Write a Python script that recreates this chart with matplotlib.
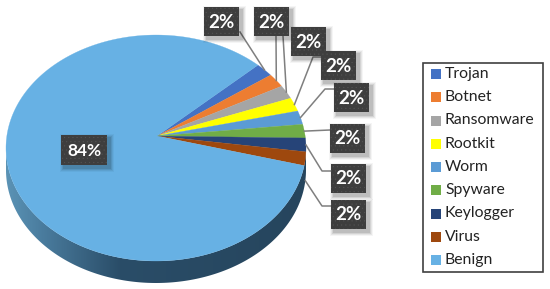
import numpy as np
import matplotlib as mpl
mpl.use('Agg')
import matplotlib.pyplot as plt
from matplotlib.patches import Rectangle, Polygon

plt.rcParams['font.family'] = ['Lato', 'DejaVu Sans']
plt.rcParams['hatch.linewidth'] = 0.3

labels = ['Trojan', 'Botnet', 'Ransomware', 'Rootkit', 'Worm', 'Spyware', 'Keylogger', 'Virus', 'Benign']
values = [1.95, 1.95, 1.95, 1.95, 1.95, 1.95, 1.95, 1.95, 84.4]
pct_labels = ['2%', '2%', '2%', '2%', '2%', '2%', '2%', '2%', '84%']
colors = ['#4472C4', '#ED7D31', '#A5A5A5', '#FFFF00', '#5B9BD5', '#70AD47', '#264478', '#9E480E', '#67B1E4']

# everything is laid out in image pixels
W, H = 550, 289
fig = plt.figure(figsize=(W / 100, H / 100), dpi=100)
ax = fig.add_axes([0, 0, 1, 1])
ax.set_xlim(0, W)
ax.set_ylim(H, 0)
ax.axis('off')

cx, cy, a, b = 156, 148, 150, 113
apex = (157, 136)
depth = 22
start = 47.2


def rim(deg):
    t = np.radians(deg)
    return cx + a * np.cos(t), cy - b * np.sin(t)


# side of the pie, lighter on the left
t = np.radians(np.linspace(180, 360, 200))
sx = cx + a * np.cos(t)
sy = cy - b * np.sin(t)
side = Polygon(np.r_[np.c_[sx, sy + depth], np.c_[sx, sy][::-1]], closed=True,
               transform=ax.transData, facecolor='none', edgecolor='none')
ax.add_patch(side)
cmap = mpl.colors.LinearSegmentedColormap.from_list(
    'side', [(0, '#5b93b5'), (0.12, '#4a7c9e'), (0.38, '#2a4d68'), (1, '#26455d')])
im = ax.imshow(np.linspace(0, 1, 256).reshape(1, -1), cmap=cmap, aspect='auto',
               extent=(cx - a, cx + a, cy + b + depth + 2, cy - 5), zorder=1)
im.set_clip_path(side)
ax.set_xlim(0, W)
ax.set_ylim(H, 0)

# top face wedges, clockwise from the first slice
ang = start
mids = []
for val, col in zip(values, colors):
    sweep = val * 3.6
    tt = np.linspace(ang, ang - sweep, max(int(sweep) * 2, 4))
    xs, ys = rim(tt)
    ax.fill(np.r_[apex[0], xs], np.r_[apex[1], ys], color=col, lw=0.2, zorder=2)
    mids.append(ang - sweep / 2)
    ang -= sweep

# label boxes: left, top
box_w, box_h = 35, 29
box_pos = [(204, 7), (254, 7), (291, 27), (321, 51), (334, 83), (330, 124), (331, 164), (331, 200)]
# where the leader leaves the box, with an optional elbow
leader_from = [[(240, 32)], [(276, 36)], [(283, 36)], [(321, 57), (313, 57)], [(334, 89), (325, 89)],
               [(330, 130)], [(331, 171), (322, 171)], [(331, 206), (322, 206)]]


def label_box(x, y, w, h, txt, size):
    for k, al in zip([4, 3, 2, 1], [0.04, 0.06, 0.08, 0.1]):
        ax.add_patch(Rectangle((x - k + 3, y - k + 3), w + 2 * k, h + 2 * k, fc='black', ec='none', alpha=al, zorder=4))
    ax.add_patch(Rectangle((x, y), w, h, fc='#3e3e3e', ec='#535353', hatch='....', lw=0, zorder=5))
    ax.text(x + w / 2, y + h / 2 + 0.5, txt, color='white', fontsize=size, fontweight='bold',
            ha='center', va='center', zorder=6)


for i in range(8):
    ex, ey = rim(mids[i])
    if i == 7:
        ey += depth  # the virus leader lands on the side
    pts = leader_from[i] + [(ex, ey)]
    ax.plot([p[0] for p in pts], [p[1] for p in pts], color='#7f7f7f', lw=1.1, zorder=3)
    label_box(box_pos[i][0], box_pos[i][1], box_w, box_h, pct_labels[i], 13.5)
label_box(61, 135, 46, 30, pct_labels[8], 12.5)

# legend
ax.add_patch(Rectangle((423, 63), 120, 209, fc='white', ec='#404040', lw=1.2, zorder=5))
for i, (lab, col) in enumerate(zip(labels, colors)):
    y = 74 + i * 23.25
    ax.add_patch(Rectangle((431, y - 5), 10, 10, fc=col, ec='none', zorder=6))
    ax.text(445, y, lab, fontsize=11.3, color='#222222', va='center', ha='left', zorder=6)

plt.savefig('out.png', dpi=100)
